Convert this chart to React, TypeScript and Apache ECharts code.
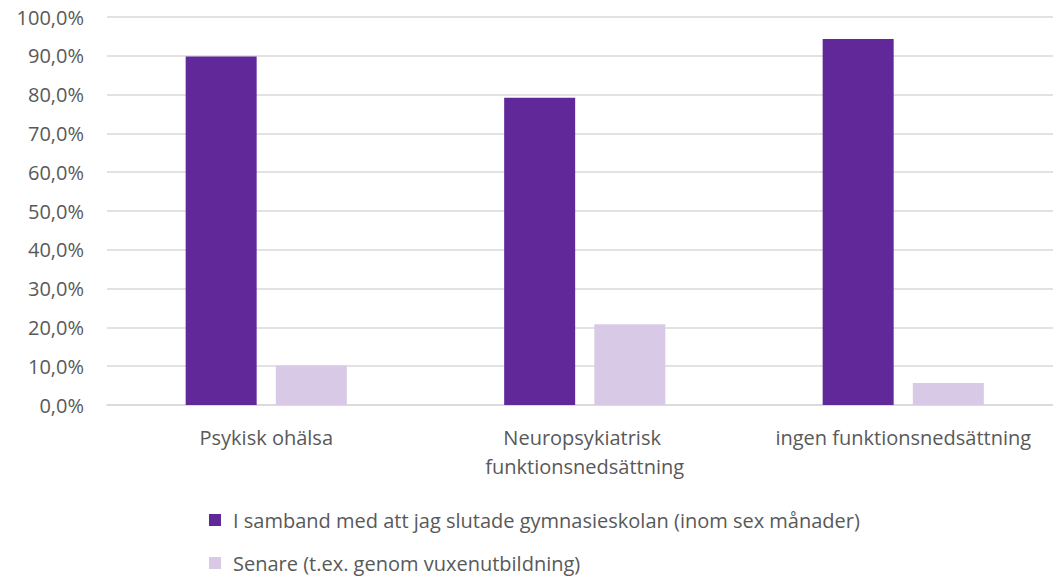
import React, { useEffect, useRef } from "react";
import * as echarts from "echarts";

const categories = ["Psykisk ohälsa", "Neuropsykiatrisk funktionsnedsättning", "ingen funktionsnedsättning"];
const seriesNames = [
  "I samband med att jag slutade gymnasieskolan (inom sex månader)",
  "Senare (t.ex. genom vuxenutbildning)",
];
const seriesA = [89.8, 79.2, 94.3];
const seriesB = [10.2, 20.8, 5.7];
const colors = ["#61289A", "#D8CAE6"];

const FONT = "'Open Sans', sans-serif";
const TXT = "#595959";
const FS = 20;

export default function App() {
  const ref = useRef<HTMLDivElement>(null);
  useEffect(() => {
    if (!ref.current) return;
    const chart = echarts.init(ref.current, null, { renderer: "svg" });
    chart.setOption({
      animation: false,
      textStyle: { fontFamily: FONT },
      grid: { left: 107, width: 955.5, top: 17, height: 388, containLabel: false },
      legend: {
        orient: "vertical",
        left: 209,
        top: 510,
        height: 66,
        padding: 0,
        itemWidth: 12,
        itemHeight: 12,
        itemGap: 23,
        icon: "rect",
        textStyle: { color: TXT, fontSize: FS, fontFamily: FONT, lineHeight: 20, padding: [0, 0, 0, 7] },
        data: seriesNames,
      },
      xAxis: {
        type: "category",
        data: categories,
        axisLine: { show: true, lineStyle: { color: "#D9D9D9", width: 1.5 } },
        axisTick: { show: false },
        axisLabel: {
          color: TXT,
          fontSize: FS,
          fontFamily: FONT,
          margin: 17.5,
          lineHeight: 29,
          width: 300,
          overflow: "break",
          interval: 0,
        },
      },
      yAxis: {
        type: "value",
        min: 0,
        max: 100,
        interval: 10,
        axisLine: { show: false },
        axisTick: { show: false },
        splitLine: { lineStyle: { color: "#D9D9D9", width: 1.5 } },
        axisLabel: {
          color: TXT,
          fontSize: FS,
          fontFamily: FONT,
          margin: 23,
          formatter: (v: number) => v.toFixed(1).replace(".", ",") + "%",
        },
      },
      series: [
        {
          name: seriesNames[0],
          type: "bar",
          data: seriesA,
          barWidth: 71,
          barGap: "27%",
          itemStyle: { color: colors[0] },
        },
        {
          name: seriesNames[1],
          type: "bar",
          data: seriesB,
          barWidth: 71,
          barGap: "27%",
          itemStyle: { color: colors[1] },
        },
      ],
    });
    return () => chart.dispose();
  }, []);
  return (
    <div style={{ width: 1053, height: 576, position: "absolute", left: 0, top: 0, overflow: "hidden" }}>
      <div ref={ref} style={{ width: 1080, height: 576 }} />
    </div>
  );
}
